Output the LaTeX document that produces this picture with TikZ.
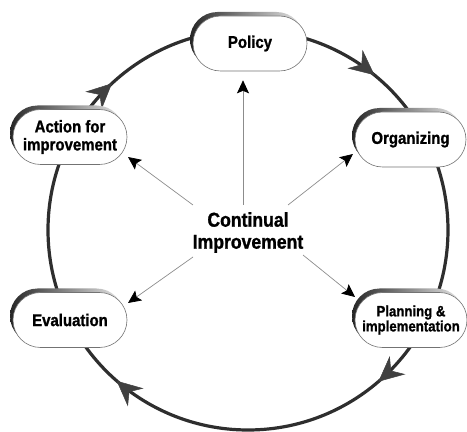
\documentclass[tikz,border=0pt]{standalone}
\usepackage{fontspec}
\setmainfont[FakeStretch=0.88, BoldFeatures={FakeBold=1.2}]{Liberation Sans}
\usetikzlibrary{arrows.meta,decorations.markings,shadows,shapes.misc}
\begin{document}
\begin{tikzpicture}[x=1pt,y=1pt,
  pill/.style={rounded rectangle, draw=black!55, line width=0.6pt, fill=white,
    minimum width=114pt, minimum height=55pt, inner sep=0pt, align=center,
    font=\fontsize{17}{18}\selectfont\bfseries,
    general shadow={shadow xshift=-3pt, shadow yshift=4pt, left color=black!85, right color=black!8, draw=none}},
  ring/.style={draw=black!82, line width=3.2pt},
  ringtip/.style={fill=black!50, draw=black!75, line width=0.5pt},
  spoke/.style={draw=black!45, line width=0.7pt, -{Stealth[length=13pt,width=12pt,inset=2.5pt,color=black]}},
  centre/.style={align=center, font=\fontsize{20}{22}\selectfont\bfseries}]
\useasboundingbox (0,0) rectangle (467,432);
\coordinate (c) at (248,202);
\draw[ring, postaction={decorate}, decoration={markings,
    mark=at position 0.109 with {\arrow[ringtip]{Stealth[length=18pt,width=17pt,inset=6pt,scale=1.4]}},
    mark=at position 0.387 with {\arrow[ringtip]{Stealth[length=18pt,width=17pt,inset=6pt,scale=1.4]}},
    mark=at position 0.614 with {\arrow[ringtip]{Stealth[length=18pt,width=17pt,inset=6pt,scale=1.4]}},
    mark=at position 0.881 with {\arrow[ringtip]{Stealth[length=18pt,width=17pt,inset=6pt,scale=1.4]}}}]
  (c) ++(90:200) arc[start angle=90, end angle=-270, radius=200];

\node[pill] (pol) at (250,388.5) {Policy};
\node[pill, minimum width=111pt] (org) at (410.5,292.5) {Organizing};
\node[pill, minimum width=112pt, font=\fontsize{15}{13.5}\selectfont\bfseries] (pla) at (411,112) {Planning \&\\implementation};
\node[pill] (eva) at (70,112) {Evaluation};
\node[pill] (act) at (70,295) {Action for\\improvement};

\node[centre] (ci) at (248,199.5) {Continual\\Improvement};

\coordinate (s1) at (243,227);
\coordinate (s2) at (288,227);
\coordinate (s3) at (193,227);
\coordinate (s4) at (193,175);
\coordinate (s5) at (303,177);
\coordinate (t2) at (353,278);
\coordinate (t3) at (128,275);
\coordinate (t4) at (128,129);
\coordinate (t5) at (355,135);

\draw[spoke, shorten >=9pt] (s1) -- (s1 |- pol.south);
\draw[spoke] (s2) -- (t2);
\draw[spoke] (s3) -- (t3);
\draw[spoke] (s4) -- (t4);
\draw[spoke] (s5) -- (t5);
\end{tikzpicture}
\end{document}
